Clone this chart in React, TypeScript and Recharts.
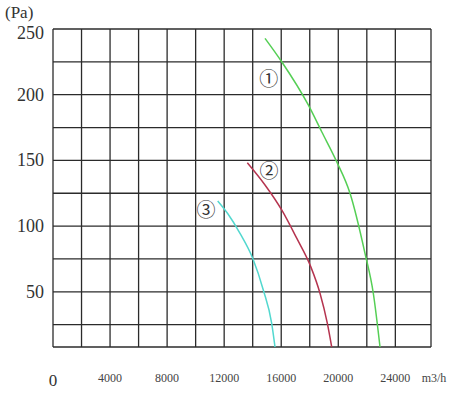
import { LineChart, Line, XAxis, YAxis, CartesianGrid, ReferenceDot } from 'recharts';

// curve ① (green)
const flow1 = [14863, 16033, 17898, 18838, 19889, 20822, 21873, 22455, 22925];
const pressure1 = [242.9, 225.1, 192.2, 171.8, 149.0, 125.0, 79.3, 48.9, 8];
// curve ② (red)
const flow2 = [13622, 14863, 16033, 17085, 18067, 18718, 19230, 19539];
const pressure2 = [148.2, 131.3, 112.3, 90.8, 69.2, 48.9, 26.1, 8];
// curve ③ (cyan)
const flow3 = [11547, 12269, 13110, 14000, 14743, 15332, 15564];
const pressure3 = [119.1, 109.2, 94.5, 75.5, 51.4, 26.0, 8];

const xTicks = [0, 2000, 4000, 6000, 8000, 10000, 12000, 14000, 16000, 18000, 20000, 22000, 24000, 26500];
const xLabels = [4000, 8000, 12000, 16000, 20000, 24000];
const yTicks = [8, 25, 50, 75, 100, 125, 150, 175, 200, 225, 250];
const yLabels = [50, 100, 150, 200, 250];

const curveLabels = [
  { text: '①', x: 15122, y: 211.7 },
  { text: '②', x: 15151, y: 141.9 },
  { text: '③', x: 10726, y: 112.5 },
];

const toPoints = (xs: number[], ys: number[]) => xs.map((x, i) => ({ x, y: ys[i] }));

const serif = '"Liberation Serif", "DejaVu Serif", serif';

function XTick(props: any) {
  const { x, y, payload } = props;
  const v = payload.value;
  if (v === 0) {
    return (
      <text x={x} y={y + 31} textAnchor="middle" fontSize={17} fill="#333" fontFamily={serif}>0</text>
    );
  }
  if (v === 26500) {
    return (
      <text x={x + 3} y={y + 27} textAnchor="middle" fontSize={12} fill="#444" fontFamily={serif}>m3/h</text>
    );
  }
  if (!xLabels.includes(v)) return null;
  return (
    <text x={x} y={y + 27} textAnchor="middle" fontSize={12} fill="#444" fontFamily={serif}>{v}</text>
  );
}

function YTick(props: any) {
  const { x, y, payload } = props;
  const v = payload.value;
  if (!yLabels.includes(v)) return null;
  const dy = v === 250 ? 10 : 6;
  return (
    <text x={x - 1} y={y + dy} textAnchor="end" fontSize={18} fill="#333" fontFamily={serif}>{v}</text>
  );
}

function CircleLabel(props: any) {
  const { cx, cy, text } = props;
  return (
    <text x={cx} y={cy + 7} textAnchor="middle" fontSize={19} fill="#333" fontFamily='"Noto Sans CJK JP", sans-serif'>{text}</text>
  );
}

export default function App() {
  return (
    <div style={{ position: 'absolute', left: 0, top: 0, width: 458, height: 394, background: '#fff' }}>
      <div style={{ position: 'absolute', left: 5, top: 3, fontSize: 17, fontFamily: serif, color: '#333' }}>(Pa)</div>
      <LineChart width={458} height={394} margin={{ top: 29, right: 27, bottom: 17, left: 0 }}>
        <CartesianGrid stroke="#2b2b2b" strokeWidth={1.3} />
        <XAxis
          type="number"
          dataKey="x"
          domain={[0, 26500]}
          ticks={xTicks}
          interval={0}
          height={30}
          axisLine={false}
          tickLine={false}
          tick={<XTick />}
        />
        <YAxis
          type="number"
          dataKey="y"
          domain={[8, 250]}
          ticks={yTicks}
          interval={0}
          width={53}
          axisLine={false}
          tickLine={false}
          tick={<YTick />}
        />
        <Line data={toPoints(flow1, pressure1)} dataKey="y" type="monotone" stroke="#55cf55" strokeWidth={1.5} dot={false} isAnimationActive={false} />
        <Line data={toPoints(flow2, pressure2)} dataKey="y" type="monotone" stroke="#b5344f" strokeWidth={1.5} dot={false} isAnimationActive={false} />
        <Line data={toPoints(flow3, pressure3)} dataKey="y" type="monotone" stroke="#52d8cf" strokeWidth={1.5} dot={false} isAnimationActive={false} />
        {curveLabels.map((l) => (
          <ReferenceDot key={l.text} x={l.x} y={l.y} r={0} shape={(p: any) => <CircleLabel {...p} text={l.text} />} />
        ))}
      </LineChart>
    </div>
  );
}
